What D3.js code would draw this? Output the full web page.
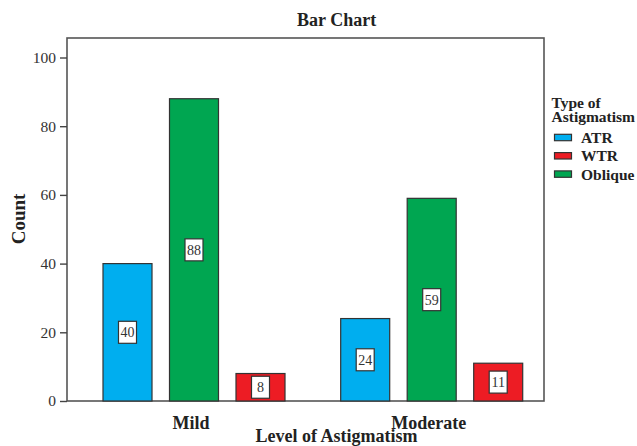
<!DOCTYPE html>
<html><head><meta charset="utf-8">
<script src="https://cdn.jsdelivr.net/npm/d3@7"></script>
<style>
body{margin:0;background:#fff;}
svg{display:block;font-family:"Liberation Serif","Times New Roman",serif;}
</style></head>
<body><svg id="c" width="637" height="446"></svg>
<script>
const levels = ["Mild", "Moderate"];
const barOrder = ["ATR", "Oblique", "WTR"];
const legendOrder = ["ATR", "WTR", "Oblique"];
const atrValues = [40, 24];
const wtrValues = [8, 11];
const obliqueValues = [88, 59];
const yTicks = [0, 20, 40, 60, 80, 100];
const colors = {ATR: "#00AEEF", WTR: "#ED1C24", Oblique: "#00A651"};

const seriesValues = {ATR: atrValues, WTR: wtrValues, Oblique: obliqueValues};
const data = [];
levels.forEach((lv, i) => barOrder.forEach(t => data.push({level: lv, type: t, value: seriesValues[t][i]})));

const svg = d3.select("#c");
const L = 67, R = 544, T = 38, B = 401;

const y = d3.scaleLinear().domain([0, 100]).range([B, 57.5]);
const x0 = d3.scalePoint().domain(levels).range([194, 431.7]);
const x1 = d3.scaleBand().domain(barOrder).range([-99.75, 99.75]).paddingInner(0.263).paddingOuter(0.1315);

// frame
svg.append("rect").attr("x", L).attr("y", T).attr("width", R - L).attr("height", B - T)
  .attr("fill", "none").attr("stroke", "#555").attr("stroke-width", 1.6);

// bars
const g = svg.append("g");
g.selectAll("rect.bar").data(data).join("rect").attr("class", "bar")
  .attr("x", d => x0(d.level) + x1(d.type))
  .attr("y", d => y(d.value))
  .attr("width", x1.bandwidth())
  .attr("height", d => B - y(d.value))
  .attr("fill", d => colors[d.type])
  .attr("stroke", "#333").attr("stroke-width", 1.2);

// value labels
const lab = g.selectAll("g.lab").data(data).join("g").attr("class", "lab")
  .attr("transform", d => `translate(${x0(d.level) + x1(d.type) + x1.bandwidth() / 2},${(y(d.value) + B) / 2})`);
lab.append("rect").attr("x", -9).attr("y", -11).attr("width", 18).attr("height", 22)
  .attr("fill", "#fff").attr("stroke", "#333").attr("stroke-width", 1.2);
lab.append("text").attr("text-anchor", "middle").attr("dy", "0.35em")
  .attr("font-size", 14).attr("fill", "#333").text(d => d.value);

// y axis
const yAxis = d3.axisLeft(y).tickValues(yTicks).tickSize(7).tickPadding(4).tickFormat(d3.format("d"));
const ya = svg.append("g").attr("transform", `translate(${L},0)`).call(yAxis)
  .attr("font-family", "Liberation Serif, Times New Roman, serif").attr("font-size", 15.5);
ya.select(".domain").remove();
ya.selectAll("line").attr("stroke", "#444").attr("stroke-width", 1.4);
ya.selectAll("text").attr("fill", "#333");

// x category labels
svg.selectAll("text.cat").data(levels).join("text").attr("class", "cat")
  .attr("x", d => x0(d) - 3).attr("y", 429).attr("text-anchor", "middle")
  .attr("font-weight", "bold").attr("font-size", 18).attr("fill", "#222").text(d => d);

// titles
svg.append("text").attr("x", 336.7).attr("y", 26).attr("text-anchor", "middle")
  .attr("font-weight", "bold").attr("font-size", 18).attr("fill", "#222").text("Bar Chart");
svg.append("text").attr("x", 336.5).attr("y", 442).attr("text-anchor", "middle")
  .attr("font-weight", "bold").attr("font-size", 18).attr("fill", "#222").text("Level of Astigmatism");
svg.append("text").attr("transform", "translate(25,219) rotate(-90)").attr("text-anchor", "middle")
  .attr("font-weight", "bold").attr("font-size", 19).attr("fill", "#222").text("Count");

// legend
const lg = svg.append("g");
lg.append("text").attr("x", 551.5).attr("y", 107.5).attr("font-weight", "bold").attr("font-size", 15.5)
  .attr("fill", "#222").text("Type of");
lg.append("text").attr("x", 551.5).attr("y", 122).attr("font-weight", "bold").attr("font-size", 15.5)
  .attr("fill", "#222").text("Astigmatism");
const li = lg.selectAll("g.li").data(legendOrder).join("g").attr("class", "li")
  .attr("transform", (d, i) => `translate(0,${137.5 + i * 18.3})`);
li.append("rect").attr("x", 554.5).attr("y", -3.2).attr("width", 17).attr("height", 6.4)
  .attr("fill", d => colors[d]).attr("stroke", "#333").attr("stroke-width", 1.2);
li.append("text").attr("x", 581).attr("y", 5.5).attr("font-weight", "bold").attr("font-size", 15.5)
  .attr("fill", "#222").text(d => d);
</script></body></html>
